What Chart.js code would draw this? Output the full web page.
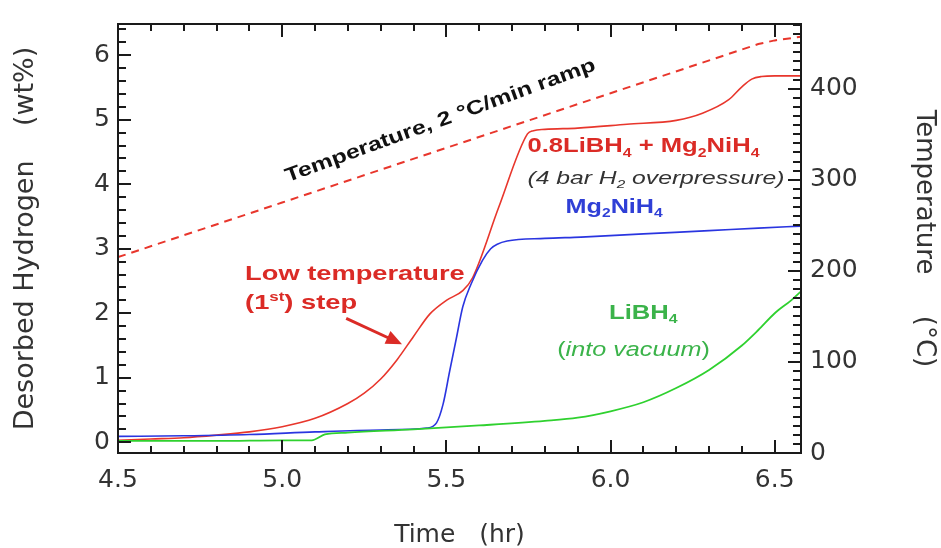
<!DOCTYPE html>
<html>
<head>
<meta charset="utf-8">
<script src="https://cdn.jsdelivr.net/npm/chart.js@4.4.0/dist/chart.umd.min.js"></script>
<style>
  html, body { margin: 0; padding: 0; background: #fff; }
  #wrap { width: 941px; height: 548px; }
</style>
</head>
<body>
<div id="wrap"><canvas id="chart" width="941" height="548"></canvas></div>
<script>
// 0.8LiBH4 + Mg2NiH4 (wt%)
const mixTime = [4.5, 4.6, 4.7, 4.8, 4.9, 5.0, 5.1, 5.2, 5.25, 5.3, 5.35, 5.4, 5.45, 5.5, 5.55, 5.58, 5.66, 5.747, 5.765, 5.8, 5.9, 6.05, 6.2, 6.28, 6.36, 6.4, 6.43, 6.46, 6.5, 6.58];
const mixWt   = [0.03, 0.05, 0.07, 0.11, 0.16, 0.24, 0.37, 0.6, 0.76, 0.98, 1.28, 1.64, 1.99, 2.2, 2.35, 2.55, 3.65, 4.78, 4.83, 4.85, 4.87, 4.93, 4.99, 5.1, 5.31, 5.51, 5.63, 5.67, 5.68, 5.68];

// Mg2NiH4 (wt%)
const mgTime = [4.5, 4.7, 4.9, 5.1, 5.3, 5.44, 5.47, 5.49, 5.51, 5.53, 5.55, 5.575, 5.61, 5.635, 5.655, 5.685, 5.8, 5.91, 6.1, 6.3, 6.45, 6.58];
const mgWt   = [0.09, 0.10, 0.12, 0.16, 0.19, 0.22, 0.30, 0.59, 1.1, 1.6, 2.1, 2.45, 2.82, 3.0, 3.07, 3.12, 3.16, 3.18, 3.23, 3.28, 3.32, 3.35];

// LiBH4 into vacuum (wt%)
const liTime = [4.5, 4.8, 5.0, 5.09, 5.13, 5.2, 5.4, 5.6, 5.8, 5.9, 6.0, 6.1, 6.2, 6.3, 6.4, 6.45, 6.5, 6.55, 6.58];
const liWt   = [0.02, 0.02, 0.03, 0.03, 0.12, 0.15, 0.2, 0.26, 0.33, 0.38, 0.48, 0.62, 0.84, 1.12, 1.5, 1.74, 2.0, 2.2, 2.34];

// temperature ramp (°C)
const tempTime = [4.5, 5.0, 5.5, 6.0, 6.4, 6.45, 6.5, 6.58];
const tempC    = [215, 275, 335, 395, 443, 449, 453, 457];

const xTicks = [4.5, 5.0, 5.5, 6.0, 6.5];
const wtTicks = [0, 1, 2, 3, 4, 5, 6];
const tempTicks = [0, 100, 200, 300, 400];

const RED = '#e8362c', BLUE = '#2a35e0', GREEN = '#2fd12f';
const pts = (xs, ys) => xs.map((x, i) => ({ x: x, y: ys[i] }));

// text notes, placed in data units (time, wt%)
const notes = [
  { x: 5.482, y: 4.98, angle: -20, align: 'center', color: '#111', size: 19.5, sx: 1.27,
    parts: [['Temperature, 2 °C/min ramp', 'b']] },
  { x: 5.747, y: 4.58, align: 'left', color: '#db2b26', size: 20, sx: 1.28,
    parts: [['0.8LiBH', 'b'], ['4', 'bsub'], [' + Mg', 'b'], ['2', 'bsub'], ['NiH', 'b'], ['4', 'bsub']] },
  { x: 5.747, y: 4.08, align: 'left', color: '#333', size: 19, sx: 1.3,
    parts: [['(4 bar H', 'i'], ['2', 'isub'], [' overpressure)', 'i']] },
  { x: 5.863, y: 3.64, align: 'left', color: '#2f3fd6', size: 20, sx: 1.26,
    parts: [['Mg', 'b'], ['2', 'bsub'], ['NiH', 'b'], ['4', 'bsub']] },
  { x: 4.887, y: 2.6, align: 'left', color: '#db2b26', size: 20.5, sx: 1.33,
    parts: [['Low temperature', 'b']] },
  { x: 4.887, y: 2.15, align: 'left', color: '#db2b26', size: 20.5, sx: 1.33,
    parts: [['(1', 'b'], ['st', 'bsup'], [') step', 'b']] },
  { x: 6.10, y: 2.0, align: 'center', color: '#3bb34a', size: 20, sx: 1.28,
    parts: [['LiBH', 'b'], ['4', 'bsub']] },
  { x: 6.07, y: 1.43, align: 'center', color: '#3bb34a', size: 20, sx: 1.26,
    parts: [['(', 'n'], ['into vacuum', 'i'], [')', 'n']] }
];
const arrow = { from: [5.195, 1.92], to: [5.365, 1.52], color: '#db2b26' };

function partFont(style, size) {
  const small = style.endsWith('sub') || style.endsWith('sup');
  const s = small ? size * 0.62 : size;
  const w = style.startsWith('b') ? 'bold ' : '';
  const it = style.startsWith('i') ? 'italic ' : '';
  return it + w + s + 'px "Liberation Sans", Arial, sans-serif';
}

function drawNote(ctx, n, px, py) {
  ctx.save();
  ctx.translate(px, py);
  if (n.angle) ctx.rotate(n.angle * Math.PI / 180);
  ctx.scale(n.sx, 1);
  ctx.fillStyle = n.color;
  ctx.textBaseline = 'middle';
  ctx.textAlign = 'left';
  let total = 0;
  const widths = n.parts.map(p => { ctx.font = partFont(p[1], n.size); const w = ctx.measureText(p[0]).width; total += w; return w; });
  let cx = n.align === 'center' ? -total / 2 : 0;
  n.parts.forEach((p, i) => {
    ctx.font = partFont(p[1], n.size);
    let dy = 0;
    if (p[1].endsWith('sub')) dy = n.size * 0.32;
    if (p[1].endsWith('sup')) dy = -n.size * 0.3;
    ctx.fillText(p[0], cx, dy);
    cx += widths[i];
  });
  ctx.restore();
}

const notesPlugin = {
  id: 'notes',
  afterDatasetsDraw(chart) {
    const { ctx, scales } = chart;
    notes.forEach(n => drawNote(ctx, n, scales.x.getPixelForValue(n.x), scales.y.getPixelForValue(n.y)));
    const x1 = scales.x.getPixelForValue(arrow.from[0]), y1 = scales.y.getPixelForValue(arrow.from[1]);
    const x2 = scales.x.getPixelForValue(arrow.to[0]), y2 = scales.y.getPixelForValue(arrow.to[1]);
    const ang = Math.atan2(y2 - y1, x2 - x1);
    ctx.save();
    ctx.strokeStyle = arrow.color;
    ctx.fillStyle = arrow.color;
    ctx.lineWidth = 3;
    ctx.beginPath();
    ctx.moveTo(x1, y1);
    ctx.lineTo(x2 - 10 * Math.cos(ang), y2 - 10 * Math.sin(ang));
    ctx.stroke();
    ctx.beginPath();
    ctx.moveTo(x2, y2);
    ctx.lineTo(x2 - 16 * Math.cos(ang) + 7 * Math.sin(ang), y2 - 16 * Math.sin(ang) - 7 * Math.cos(ang));
    ctx.lineTo(x2 - 16 * Math.cos(ang) - 7 * Math.sin(ang), y2 - 16 * Math.sin(ang) + 7 * Math.cos(ang));
    ctx.closePath();
    ctx.fill();
    ctx.restore();
  }
};

// box frame with inward ticks on all four sides
const framePlugin = {
  id: 'frame',
  afterDraw(chart) {
    const { ctx, chartArea: a, scales } = chart;
    ctx.save();
    ctx.strokeStyle = '#1a1a1a';
    ctx.lineWidth = 2;
    const line = (x1, y1, x2, y2) => { ctx.beginPath(); ctx.moveTo(x1, y1); ctx.lineTo(x2, y2); ctx.stroke(); };
    for (let i = 0; ; i++) {
      const v = 4.5 + i * 0.1;
      if (v > scales.x.max + 1e-9) break;
      const px = Math.round(scales.x.getPixelForValue(v));
      const len = i % 5 === 0 ? 13 : 7;
      line(px, a.bottom, px, a.bottom - len);
      line(px, a.top, px, a.top + len);
    }
    for (let i = 0; ; i++) {
      const v = i * 0.2;
      if (v > scales.y.max) break;
      const py = Math.round(scales.y.getPixelForValue(v));
      line(a.left, py, a.left + (i % 5 === 0 ? 13 : 8), py);
    }
    for (let i = 0; ; i++) {
      const v = i * 10;
      if (v > scales.y2.max) break;
      const py = Math.round(scales.y2.getPixelForValue(v));
      line(a.right, py, a.right - (i % 10 === 0 ? 13 : 8), py);
    }
    ctx.strokeRect(a.left, a.top, a.right - a.left, a.bottom - a.top);
    ctx.restore();
  }
};

const tickFont = { family: '"DejaVu Sans", sans-serif', size: 25 };

new Chart(document.getElementById('chart'), {
  type: 'scatter',
  data: {
    datasets: [
      { label: 'Temperature', data: pts(tempTime, tempC), yAxisID: 'y2', showLine: true,
        borderColor: RED, borderWidth: 2, borderDash: [8, 6], pointRadius: 0, tension: 0 },
      { label: 'LiBH4', data: pts(liTime, liWt), yAxisID: 'y', showLine: true,
        borderColor: GREEN, borderWidth: 1.8, pointRadius: 0, cubicInterpolationMode: 'monotone' },
      { label: 'Mg2NiH4', data: pts(mgTime, mgWt), yAxisID: 'y', showLine: true,
        borderColor: BLUE, borderWidth: 1.6, pointRadius: 0, cubicInterpolationMode: 'monotone' },
      { label: '0.8LiBH4 + Mg2NiH4', data: pts(mixTime, mixWt), yAxisID: 'y', showLine: true,
        borderColor: RED, borderWidth: 1.6, pointRadius: 0, cubicInterpolationMode: 'monotone' }
    ]
  },
  options: {
    responsive: false,
    animation: false,
    devicePixelRatio: 1,
    layout: { padding: { top: 16, left: 0, right: 0, bottom: 0 } },
    plugins: { legend: { display: false }, tooltip: { enabled: false } },
    scales: {
      x: {
        type: 'linear', min: 4.5, max: 6.58,
        grid: { display: false, drawTicks: false }, border: { display: false },
        afterBuildTicks: s => { s.ticks = xTicks.map(v => ({ value: v })); },
        afterFit: s => { s.height = 95; },
        ticks: { padding: 12, color: '#333', font: tickFont, callback: v => v.toFixed(1) },
        title: { display: true, text: 'Time   (hr)', color: '#333',
          font: { family: '"DejaVu Sans", sans-serif', size: 25, lineHeight: 1.0 }, padding: 0 }
      },
      y: {
        type: 'linear', position: 'left', min: -0.167, max: 6.484,
        grid: { display: false, drawTicks: false }, border: { display: false },
        afterBuildTicks: s => { s.ticks = wtTicks.map(v => ({ value: v })); },
        afterFit: s => { s.width = 118; },
        ticks: { padding: 8, color: '#333', font: tickFont },
        title: { display: true, text: 'Desorbed Hydrogen    (wt%)', color: '#333',
          font: { family: '"DejaVu Sans", sans-serif', size: 27, lineHeight: 1.0 }, padding: { top: 12 } }
      },
      y2: {
        type: 'linear', position: 'right', min: 0, max: 471,
        grid: { display: false, drawTicks: false }, border: { display: false },
        afterBuildTicks: s => { s.ticks = tempTicks.map(v => ({ value: v })); },
        afterFit: s => { s.width = 140; },
        ticks: { padding: 9, color: '#333', font: tickFont },
        title: { display: true, text: 'Temperature     (°C)', color: '#333',
          font: { family: '"DejaVu Sans", sans-serif', size: 26, lineHeight: 1.0 }, padding: { top: 4 } }
      }
    }
  },
  plugins: [notesPlugin, framePlugin]
});
</script>
</body>
</html>
